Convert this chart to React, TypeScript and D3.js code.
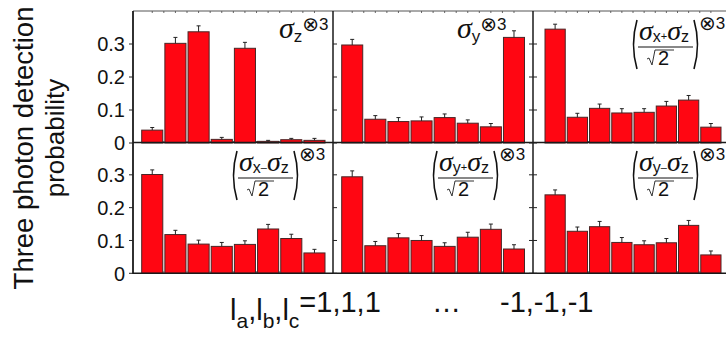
import * as d3 from 'd3'

// measurement outcomes l_a,l_b,l_c
const outcomes = ['1,1,1', '1,1,-1', '1,-1,1', '1,-1,-1', '-1,1,1', '-1,1,-1', '-1,-1,1', '-1,-1,-1']
const yTicks = [0, 0.1, 0.2, 0.3]

// probabilities, with error bars
const sigmaZ = [0.039, 0.302, 0.337, 0.011, 0.287, 0.005, 0.01, 0.008]
const sigmaZErr = [0.008, 0.018, 0.018, 0.006, 0.018, 0.003, 0.004, 0.006]
const sigmaY = [0.297, 0.072, 0.065, 0.067, 0.077, 0.06, 0.049, 0.32]
const sigmaYErr = [0.017, 0.011, 0.012, 0.012, 0.011, 0.01, 0.01, 0.02]
const sigmaXPlusZ = [0.345, 0.078, 0.105, 0.091, 0.093, 0.112, 0.13, 0.048]
const sigmaXPlusZErr = [0.015, 0.012, 0.013, 0.013, 0.011, 0.014, 0.014, 0.011]
const sigmaXMinusZ = [0.301, 0.118, 0.089, 0.082, 0.088, 0.135, 0.106, 0.062]
const sigmaXMinusZErr = [0.014, 0.013, 0.012, 0.012, 0.011, 0.014, 0.013, 0.011]
const sigmaYPlusZ = [0.294, 0.084, 0.108, 0.1, 0.082, 0.11, 0.134, 0.074]
const sigmaYPlusZErr = [0.018, 0.013, 0.013, 0.015, 0.011, 0.015, 0.016, 0.013]
const sigmaYMinusZ = [0.239, 0.128, 0.142, 0.094, 0.087, 0.093, 0.146, 0.056]
const sigmaYMinusZErr = [0.015, 0.013, 0.016, 0.015, 0.012, 0.013, 0.015, 0.012]

const panels = [
  { values: sigmaZ, errors: sigmaZErr, sub: 'z', frac: null },
  { values: sigmaY, errors: sigmaYErr, sub: 'y', frac: null },
  { values: sigmaXPlusZ, errors: sigmaXPlusZErr, sub: 'x', frac: '+' },
  { values: sigmaXMinusZ, errors: sigmaXMinusZErr, sub: 'x', frac: '–' },
  { values: sigmaYPlusZ, errors: sigmaYPlusZErr, sub: 'y', frac: '+' },
  { values: sigmaYMinusZ, errors: sigmaYMinusZErr, sub: 'y', frac: '–' },
]

const W = 726
const H = 339
const colEdges = [133, 333, 533, 733]
const barSpans: [number, number][] = [[141.7, 325], [341.7, 524.5], [545, 721]]
const rows: [number, number][] = [[11, 143], [142, 273.3]]

const RED = '#ff0612'
const SANS = 'Liberation Sans, Arial, sans-serif'
const SERIF = 'Liberation Serif, Times New Roman, serif'

function Tensor3({ y }: { y: number }) {
  return (
    <>
      <tspan fontFamily="DejaVu Sans" fontSize={20} y={y + 1}>⊗</tspan>
      <tspan fontSize={17} y={y}>3</tspan>
    </>
  )
}

function SimpleLabel({ x0, top, sub }: { x0: number; top: number; sub: string }) {
  const x = sub === 'z' ? x0 + 146 : x0 + 124
  return (
    <text x={x} y={top + 27} fill="#111" fontFamily={SANS}>
      <tspan fontFamily={SERIF} fontStyle="italic" fontSize={30}>σ</tspan>
      <tspan fontSize={17} y={top + 31}>{sub}</tspan>
      <Tensor3 y={top + 19} />
    </text>
  )
}

function FracLabel({ x0, top, sub, op }: { x0: number; top: number; sub: string; op: string }) {
  const lx = x0 + 100
  const rx = x0 + 165
  const y1 = top + 9
  const y2 = top + 58
  const ym = (y1 + y2) / 2
  return (
    <g fill="#111" stroke="none">
      <path d={`M${lx + 4},${y1} Q${lx - 3},${ym} ${lx + 4},${y2}`} fill="none" stroke="#111" strokeWidth={1.6} />
      <path d={`M${rx - 4},${y1} Q${rx + 3},${ym} ${rx - 4},${y2}`} fill="none" stroke="#111" strokeWidth={1.6} />
      <text x={x0 + 106} y={top + 29} fontFamily={SANS}>
        <tspan fontFamily={SERIF} fontStyle="italic" fontSize={28}>σ</tspan>
        <tspan fontSize={16} y={top + 31}>{sub}</tspan>
        <tspan fontSize={11} y={top + 29}>{op}</tspan>
        <tspan fontFamily={SERIF} fontStyle="italic" fontSize={28} y={top + 29}>σ</tspan>
        <tspan fontSize={16} y={top + 31}>z</tspan>
      </text>
      <line x1={x0 + 105} x2={x0 + 160} y1={top + 36} y2={top + 36} stroke="#111" strokeWidth={1} />
      <path
        d={`M${x0 + 114},${top + 48} L${x0 + 116},${top + 47} L${x0 + 119},${top + 54} L${x0 + 122},${top + 39} L${x0 + 141},${top + 39}`}
        fill="none" stroke="#333" strokeWidth={1}
      />
      <text x={x0 + 125} y={top + 54} fontFamily={SANS} fontSize={20}>2</text>
      <text x={x0 + 166} y={top + 18} fontFamily={SANS}>
        <Tensor3 y={top + 18} />
      </text>
    </g>
  )
}

export default function App() {
  return (
    <svg
      width={W}
      height={H}
      style={{ position: 'absolute', left: 0, top: 0, background: '#fff' }}
      fontFamily={SANS}
    >
      {panels.map((p, i) => {
        const c = i % 3
        const r = Math.floor(i / 3)
        const [top, bottom] = rows[r]
        const x = d3.scaleBand<string>().domain(outcomes).range(barSpans[c]).paddingInner(0.09)
        const y = d3.scaleLinear().domain([0, 0.4]).range([bottom, top])
        const bw = x.bandwidth()
        const gap = x.step() - bw
        const minor = outcomes.flatMap(o => [x(o)! - gap / 2, x(o)! + bw / 2]).slice(1)
        return (
          <g key={i}>
            {/* top minor ticks */}
            {r === 0 && minor.map((m, k) => (
              <line key={'t' + k} x1={m} x2={m} y1={top} y2={top + 2} stroke="#666" strokeWidth={1} />
            ))}
            {minor.map((m, k) => (
              <line key={'b' + k} x1={m} x2={m} y1={bottom} y2={bottom - 2} stroke="#555" strokeWidth={1} />
            ))}
            {outcomes.map((o, k) => {
              const v = p.values[k]
              const e = p.errors[k]
              const cx = x(o)! + bw / 2
              return (
                <g key={o}>
                  <rect x={x(o)!} y={y(v)} width={bw} height={y(0) - y(v)} fill={RED} stroke="#4a2626" strokeWidth={1} />
                  <line x1={cx} x2={cx} y1={y(v)} y2={y(v + e)} stroke="#222" strokeWidth={1} />
                  <line x1={cx - 2} x2={cx + 2} y1={y(v + e)} y2={y(v + e)} stroke="#222" strokeWidth={1} />
                </g>
              )
            })}
            {p.frac
              ? <FracLabel x0={colEdges[c]} top={top} sub={p.sub} op={p.frac} />
              : <SimpleLabel x0={colEdges[c]} top={top} sub={p.sub} />}
          </g>
        )
      })}

      {/* frame */}
      <line x1={colEdges[0]} x2={W} y1={11} y2={11} stroke="#555" strokeWidth={1} />
      <line x1={colEdges[0]} x2={W} y1={142.6} y2={142.6} stroke="#1a1a1a" strokeWidth={1.5} />
      <line x1={colEdges[0]} x2={W} y1={273.3} y2={273.3} stroke="#1a1a1a" strokeWidth={1.5} />
      {colEdges.slice(0, 3).map((cx, k) => (
        <line key={k} x1={cx} x2={cx} y1={11} y2={274} stroke="#1a1a1a" strokeWidth={k === 0 ? 1.8 : 1.5} />
      ))}

      {/* y ticks and labels */}
      {rows.map(([top, bottom], r) => {
        const y = d3.scaleLinear().domain([0, 0.4]).range([bottom, top])
        return (
          <g key={r}>
            {yTicks.map(t => (
              <g key={t}>
                <line x1={colEdges[0] - 4} x2={colEdges[0]} y1={y(t)} y2={y(t)} stroke="#222" strokeWidth={1} />
                {colEdges.slice(1, 3).map((cx, k) => (
                  <line key={k} x1={cx - (k === 0 ? 0 : 4)} x2={cx + 4} y1={y(t)} y2={y(t)} stroke="#222" strokeWidth={1} />
                ))}
                <text x={125} y={y(t)} dy="0.36em" textAnchor="end" fontSize={20} fill="#111">
                  {t === 0 ? '0' : d3.format('.1f')(t)}
                </text>
              </g>
            ))}
          </g>
        )
      })}

      {/* axis titles */}
      <text transform="translate(33,148) rotate(-90)" textAnchor="middle" fontSize={27.5} fill="#111">
        Three photon detection
      </text>
      <text transform="translate(64,138) rotate(-90)" textAnchor="middle" fontSize={26} fill="#111">
        probability
      </text>

      <text x={230} y={312} fontSize={29} fill="#111">
        <tspan y={320}>l</tspan><tspan fontSize={21} y={328}>a</tspan><tspan y={320}>,</tspan>
        <tspan y={320}>l</tspan><tspan fontSize={21} y={328}>b</tspan><tspan y={320}>,</tspan>
        <tspan y={320}>l</tspan><tspan fontSize={21} y={328}>c</tspan>
        <tspan y={312}>=1,1,1</tspan>
      </text>
      <text x={432} y={312} fontSize={29} fill="#111">…</text>
      <text x={500} y={312} fontSize={29} fill="#111">-1,-1,-1</text>
    </svg>
  )
}
